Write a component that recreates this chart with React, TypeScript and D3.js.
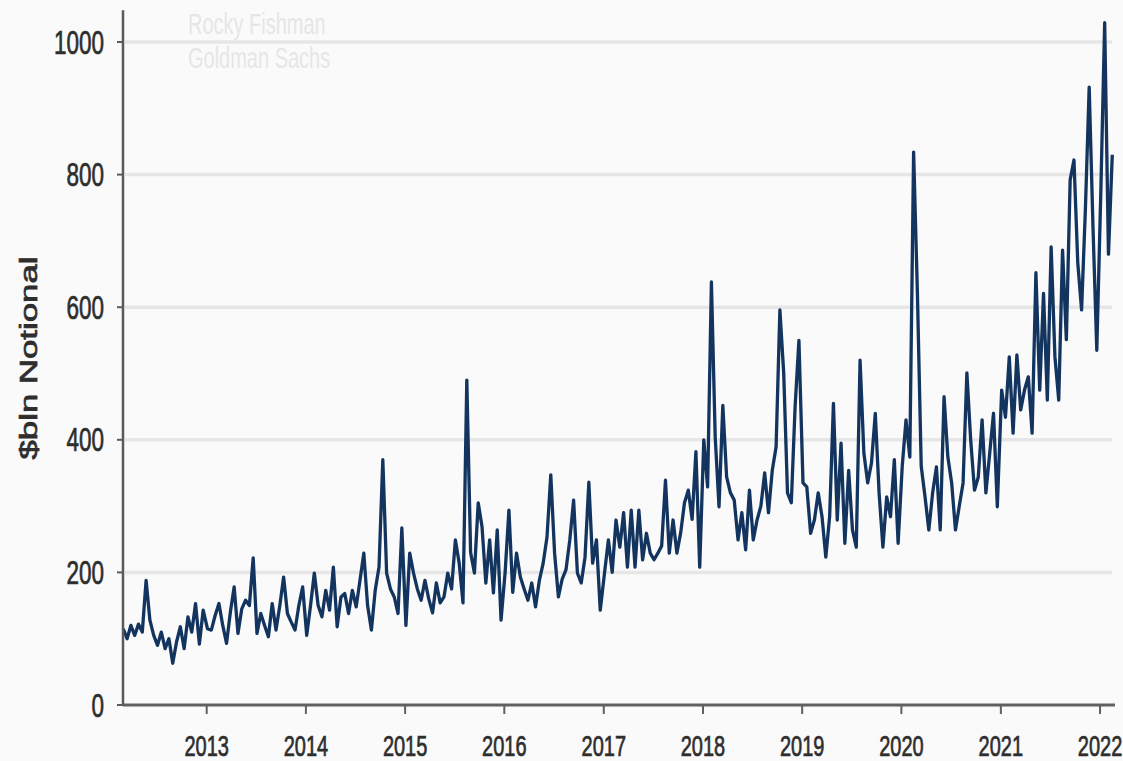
import * as d3 from "d3";

// values sampled every two weeks, $bln notional; 2012 starts in late February
const values2012 = [115, 100, 120, 105, 122, 110, 188, 128, 105, 90, 110, 85, 100, 63, 95, 118, 85, 133, 110, 153, 92, 143];
const values2013 = [115, 113, 135, 153, 120, 93, 140, 178, 108, 145, 158, 150, 222, 108, 138, 120, 103, 153, 113, 150, 193, 138, 125, 113, 150, 178];
const values2014 = [105, 150, 199, 150, 133, 173, 143, 208, 118, 163, 168, 138, 173, 148, 188, 229, 150, 113, 173, 208, 370, 199, 175, 163, 138, 267];
const values2015 = [120, 229, 199, 175, 158, 188, 160, 139, 184, 154, 163, 199, 175, 249, 214, 154, 490, 230, 199, 305, 269, 184, 249, 169, 264, 128];
const values2016 = [200, 294, 170, 229, 193, 175, 158, 184, 148, 188, 214, 253, 347, 229, 163, 190, 204, 249, 309, 199, 184, 223, 336, 214, 249, 143];
const values2017 = [200, 249, 200, 279, 238, 290, 208, 294, 208, 294, 219, 259, 229, 219, 229, 240, 339, 229, 279, 229, 260, 305, 324, 280, 382, 208];
const values2018 = [400, 329, 638, 404, 299, 452, 344, 320, 309, 249, 290, 234, 324, 249, 279, 300, 350, 290, 354, 389, 596, 501, 320, 305, 450, 550];
const values2019 = [335, 329, 259, 279, 320, 284, 223, 284, 455, 279, 395, 244, 354, 264, 238, 520, 380, 335, 365, 440, 320, 238, 314, 284, 370, 244];
const values2020 = [359, 430, 374, 834, 621, 360, 314, 264, 320, 359, 264, 465, 374, 335, 264, 300, 335, 501, 400, 324, 344, 430, 320, 380, 440, 299];
const values2021 = [475, 434, 525, 410, 528, 445, 475, 495, 410, 652, 475, 621, 460, 691, 525, 460, 686, 551, 792, 822, 667, 596, 747, 932, 721, 535];
const values2022 = [777, 1029, 680, 830];

// [year, first two-week slot of the year, values]
const yearSeries: [number, number, number[]][] = [
  [2012, 4, values2012],
  [2013, 0, values2013],
  [2014, 0, values2014],
  [2015, 0, values2015],
  [2016, 0, values2016],
  [2017, 0, values2017],
  [2018, 0, values2018],
  [2019, 0, values2019],
  [2020, 0, values2020],
  [2021, 0, values2021],
  [2022, 0, values2022],
];

const yTicks = [0, 200, 400, 600, 800, 1000];
const xTickYears = [2013, 2014, 2015, 2016, 2017, 2018, 2019, 2020, 2021, 2022];
const yTitle = "$bln Notional";
const watermark = ["Rocky Fishman", "Goldman Sachs"];

const W = 1123;
const H = 761;
const STRETCH = 1.45; // the picture is taller than wide, text included
const FONT = "'Liberation Sans', Arial, sans-serif";
const INK = "#2e2e2e";

interface Point {
  date: Date;
  value: number;
}

export default function App() {
  const data: Point[] = yearSeries.flatMap(([year, start, vals]) =>
    vals.map((v, i) => ({ date: new Date(year, 0, 4 + 14 * (start + i)), value: v })),
  );

  const x = d3
    .scaleTime()
    .domain([new Date(2012, 1, 28), new Date(2022, 1, 25)])
    .range([123, 1115]);
  const y = d3.scaleLinear().domain([0, 1000]).range([705, 42]);

  const [left, right] = x.range();
  const bottom = y(0);
  const top = y(1048);
  const gridRight = right - 3;

  const line = d3
    .line<Point>()
    .x((d) => x(d.date))
    .y((d) => y(d.value));

  return (
    <svg
      width={W}
      height={H}
      style={{ position: "absolute", left: 0, top: 0, background: "#fafafa" }}
      fontFamily={FONT}
    >
      <rect width={W} height={H} fill="#fafafa" />

      {/* gridlines */}
      {yTicks
        .filter((t) => t > 0)
        .map((t) => (
          <line
            key={t}
            x1={left + 2}
            x2={gridRight}
            y1={y(t)}
            y2={y(t)}
            stroke="#e6e6e6"
            strokeWidth={3.5}
          />
        ))}

      {/* watermark */}
      {watermark.map((w, i) => (
        <text
          key={w}
          transform={`translate(188,${34 + i * 34}) scale(1,${STRETCH})`}
          fontSize={20}
          fill="#e6e6e6"
        >
          {w}
        </text>
      ))}

      {/* series */}
      <path
        d={line(data) ?? ""}
        fill="none"
        stroke="#12345e"
        strokeWidth={3.3}
        strokeLinejoin="round"
      />

      {/* y axis */}
      <line x1={left} x2={left} y1={top} y2={bottom} stroke="#5a5a5a" strokeWidth={2.5} />
      {yTicks.map((t) => (
        <g key={t} transform={`translate(0,${y(t)})`}>
          <line x1={left - 6} x2={left} stroke="#5a5a5a" strokeWidth={2} />
          <text
            transform={`translate(104,${(0.716 * 22.5 * STRETCH) / 2}) scale(1,${STRETCH})`}
            textAnchor="end"
            fontSize={22.5}
            fill={INK}
            stroke={INK}
            strokeWidth={0.5}
          >
            {t}
          </text>
        </g>
      ))}

      {/* x axis */}
      <line x1={left} x2={right} y1={bottom} y2={bottom} stroke="#606060" strokeWidth={3} />
      {xTickYears.map((yr) => {
        const px = x(new Date(yr, 0, 1));
        return (
          <g key={yr} transform={`translate(${px},${bottom})`}>
            <line y1={0} y2={9} stroke="#606060" strokeWidth={2} />
            <text
              transform={`translate(0,51) scale(1,${STRETCH})`}
              textAnchor="middle"
              fontSize={20}
              fill={INK}
              stroke={INK}
              strokeWidth={0.5}
            >
              {yr}
            </text>
          </g>
        );
      })}

      {/* y title */}
      <text
        transform={`translate(37,358) scale(1,${STRETCH}) rotate(-90)`}
        textAnchor="middle"
        fontSize={24}
        fill={INK}
        stroke={INK}
        strokeWidth={0.7}
      >
        {yTitle}
      </text>
    </svg>
  );
}
